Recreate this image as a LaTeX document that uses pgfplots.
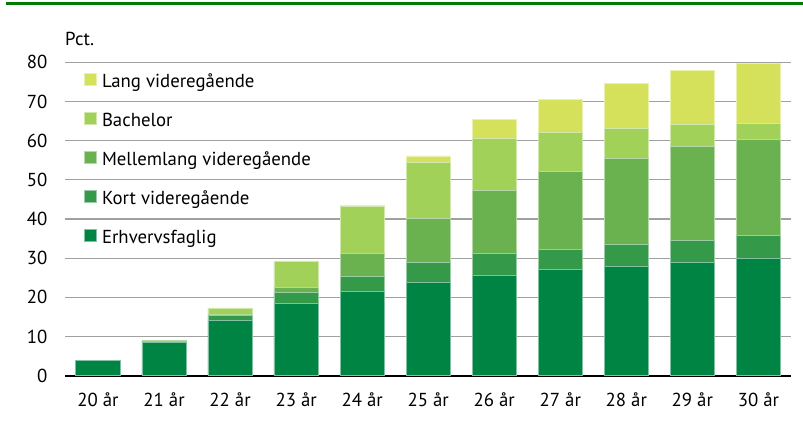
\documentclass[border=0pt]{standalone}
\usepackage{fontspec}
\setmainfont{PT Sans}
\usepackage{pgfplots}
\pgfplotsset{compat=1.18}
\usepackage{pgfplotstable}
\definecolor{cE}{RGB}{0,132,67}
\definecolor{cK}{RGB}{52,154,74}
\definecolor{cM}{RGB}{106,177,79}
\definecolor{cB}{RGB}{161,209,88}
\definecolor{cL}{RGB}{214,225,91}
\definecolor{topgreen}{RGB}{0,122,0}
\definecolor{gridgray}{RGB}{160,160,160}
\pgfplotstableread{
x E K M B L
0 3.8 0.15 0 0 0
1 8.5 0.3 0.1 0 0
2 14.1 1.3 0.3 1.4 0.2
3 18.5 2.7 1.4 6.6 0.1
4 21.5 3.9 5.9 11.9 0.3
5 23.8 5.0 11.4 14.3 1.6
6 25.7 5.4 16.1 13.3 4.8
7 27.1 5.2 19.8 10.1 8.3
8 28.0 5.5 21.9 7.6 11.5
9 28.8 5.8 24.0 5.5 13.8
10 30.0 5.9 24.3 4.2 15.3
}\data
\begin{document}
\begin{tikzpicture}
\path[use as bounding box] (0,0) rectangle (803bp,421bp);
\draw[topgreen, line width=2.2bp] (6bp,417.5bp) -- (803bp,417.5bp);
\begin{axis}[
  at={(65bp,45.3bp)}, anchor=south west,
  scale only axis, width=726.4bp, height=313.4bp,
  ybar stacked, bar width=44.3bp,
  xmin=-0.5, xmax=10.5, ymin=0, ymax=80,
  xtick=data,
  xticklabels={20 år,21 år,22 år,23 år,24 år,25 år,26 år,27 år,28 år,29 år,30 år},
  ytick={0,10,...,80},
  axis y line*=left,
  y axis line style={draw=none},
  axis x line*=bottom,
  x axis line style={black, line width=2bp, -},
  ymajorgrids, grid style={gridgray, line width=1.3bp},
  major tick length=0pt,
  tick style={draw=none},
  font=\fontsize{18.8bp}{22bp}\selectfont,
  /pgf/number format/assume math mode=true,
  xticklabel style={yshift=-13bp},
  yticklabel style={xshift=-14bp},
  clip=false,
  reverse legend,
  legend style={at={(axis cs:-0.212,77.3)}, anchor=north west, draw=none, fill=none,
    inner sep=0pt, row sep=19bp, column sep=5bp,
    nodes={inner sep=0pt, text height=13bp, text depth=5bp, anchor=west},
    font=\fontsize{18.8bp}{22bp}\selectfont},
  legend cell align=left,
  legend image code/.code={\fill[#1] (0bp,-1.5bp) rectangle (12bp,10.5bp);},
  every axis plot/.append style={line width=0.8bp},
]
\addplot[fill=cE, draw=cE!50!white] table[x=x,y=E]{\data};
\addplot[fill=cK, draw=cK!50!white] table[x=x,y=K]{\data};
\addplot[fill=cM, draw=cM!50!white] table[x=x,y=M]{\data};
\addplot[fill=cB, draw=cB!50!white] table[x=x,y=B]{\data};
\addplot[fill=cL, draw=cL!50!white] table[x=x,y=L]{\data};
\legend{Erhvervsfaglig,Kort videregående,Mellemlang videregående,Bachelor,Lang videregående}
\node[anchor=west, inner sep=0pt, font=\fontsize{18.8bp}{22bp}\selectfont] at (axis cs:-0.5,86) {Pct.};
\end{axis}
\end{tikzpicture}
\end{document}
